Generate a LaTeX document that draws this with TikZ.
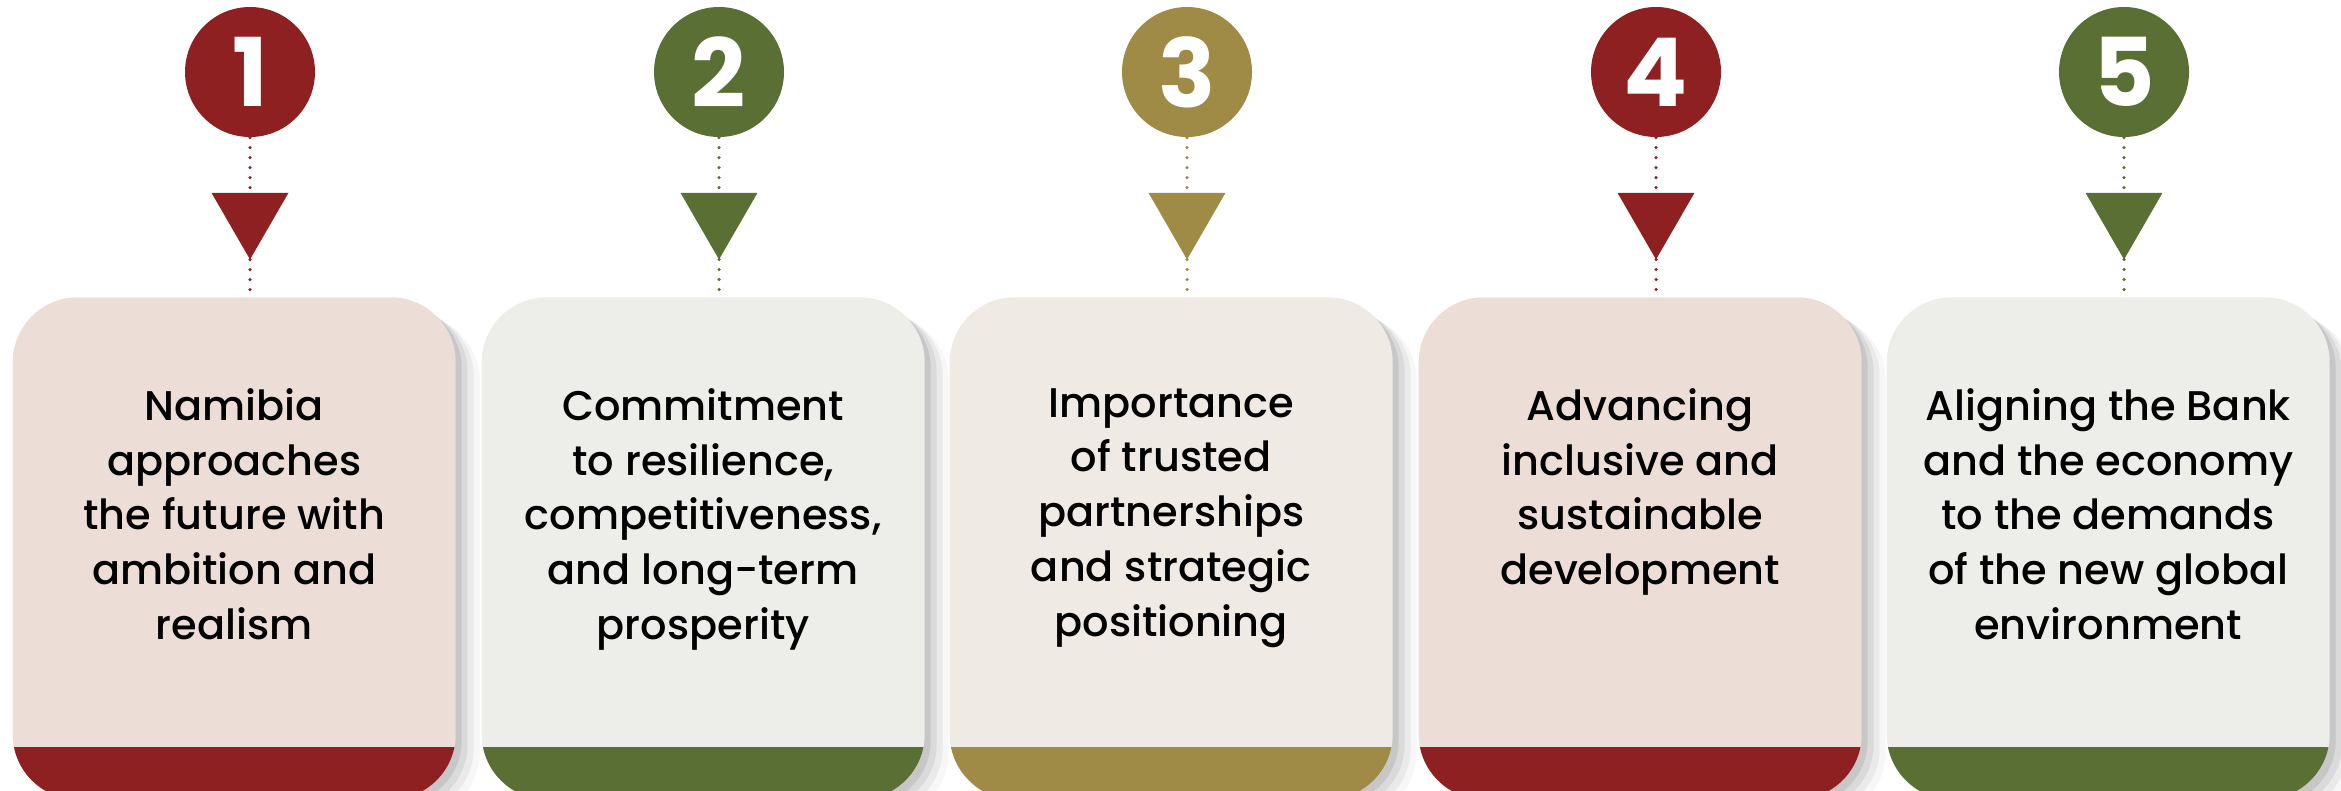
\documentclass[tikz,border=0pt]{standalone}
\usepackage{fontspec}
\setmainfont{Poppins}
\newfontfamily\medfont{Poppins Medium}
\usetikzlibrary{positioning,shapes.geometric,shadows}

\definecolor{ncRed}{RGB}{142,32,33}
\definecolor{ncGreen}{RGB}{90,111,51}
\definecolor{ncGold}{RGB}{160,139,70}
\definecolor{ncPink}{RGB}{236,221,215}
\definecolor{ncGrey}{RGB}{237,238,234}
\definecolor{ncBeige}{RGB}{239,234,228}

\begin{document}
\begin{tikzpicture}
\tikzset{num/.style={circle,fill=#1,minimum size=13mm,inner sep=0pt,text=white,font=\fontsize{27}{30}\selectfont\bfseries}}
\tikzset{tri/.style={regular polygon,regular polygon sides=3,shape border rotate=180,fill=#1,minimum size=8.9mm,inner sep=0pt,outer sep=0pt}}
\tikzset{card/.style 2 args={rectangle,rounded corners=6.5mm,fill=#2,minimum width=44.3mm,minimum height=50.2mm,anchor=south west,
  drop shadow={shadow xshift=0.6mm,shadow yshift=-0.6mm,fill=black,opacity=0.09},
  drop shadow={shadow xshift=1.2mm,shadow yshift=-1.0mm,fill=black,opacity=0.07},
  drop shadow={shadow xshift=1.8mm,shadow yshift=-1.4mm,fill=black,opacity=0.05},
  drop shadow={shadow xshift=2.4mm,shadow yshift=-1.8mm,fill=black,opacity=0.03},
  path picture={\fill[#1,sharp corners] (path picture bounding box.south west) rectangle ([yshift=5.2mm]path picture bounding box.south east);}}}
\tikzset{lbl/.style={align=center,inner sep=0pt,font=\medfont\fontsize{11.8}{15.6}\selectfont}}
\tikzset{dotline/.style={draw=#1,line width=0.35mm,line cap=round,dash pattern=on 0pt off 1mm}}

  \useasboundingbox (0,0) rectangle (23.41,7.9);

  \node[num=ncRed]   (n1) at (2.50,7.18)  {1};
  \node[num=ncGreen] (n2) at (7.19,7.18)  {2};
  \node[num=ncGold]  (n3) at (11.87,7.18) {3};
  \node[num=ncRed]   (n4) at (16.56,7.18) {4};
  \node[num=ncGreen] (n5) at (21.24,7.18) {5};

  \node[tri=ncRed]   (t1) at (2.50,5.75)  {};
  \node[tri=ncGreen] (t2) at (7.19,5.75)  {};
  \node[tri=ncGold]  (t3) at (11.87,5.75) {};
  \node[tri=ncRed]   (t4) at (16.56,5.75) {};
  \node[tri=ncGreen] (t5) at (21.24,5.75) {};

  \node[card={ncRed}{ncPink}]    (b1) at (0.12,-0.1)  {};
  \node[card={ncGreen}{ncGrey}]  (b2) at (4.81,-0.1)  {};
  \node[card={ncGold}{ncBeige}]  (b3) at (9.49,-0.1)  {};
  \node[card={ncRed}{ncPink}]    (b4) at (14.18,-0.1) {};
  \node[card={ncGreen}{ncGrey}]  (b5) at (18.86,-0.1) {};

  \node[lbl,below=9.1mm of b1.north] (l1) {Namibia\\approaches\\the future with\\ambition and\\realism};
  \node[lbl,below=9.1mm of b2.north] (l2) {Commitment\\to resilience,\\competitiveness,\\and long-term\\prosperity};
  \node[lbl,below=9.1mm of b3.north] (l3) {Importance\\of trusted\\partnerships\\and strategic\\positioning};
  \node[lbl,below=9.1mm of b4.north] (l4) {Advancing\\inclusive and\\sustainable\\development};
  \node[lbl,below=9.1mm of b5.north] (l5) {Aligning the Bank\\and the economy\\to the demands\\of the new global\\environment};

  \draw[dotline=ncRed]   (n1) -- (t1);
  \draw[dotline=ncGreen] (n2) -- (t2);
  \draw[dotline=ncGold]  (n3) -- (t3);
  \draw[dotline=ncRed]   (n4) -- (t4);
  \draw[dotline=ncGreen] (n5) -- (t5);

  \draw[dotline=ncRed]   (t1.corner 1) -- (t1.corner 1 |- b1.north);
  \draw[dotline=ncGreen] (t2.corner 1) -- (t2.corner 1 |- b2.north);
  \draw[dotline=ncGold]  (t3.corner 1) -- (t3.corner 1 |- b3.north);
  \draw[dotline=ncRed]   (t4.corner 1) -- (t4.corner 1 |- b4.north);
  \draw[dotline=ncGreen] (t5.corner 1) -- (t5.corner 1 |- b5.north);
\end{tikzpicture}
\end{document}
